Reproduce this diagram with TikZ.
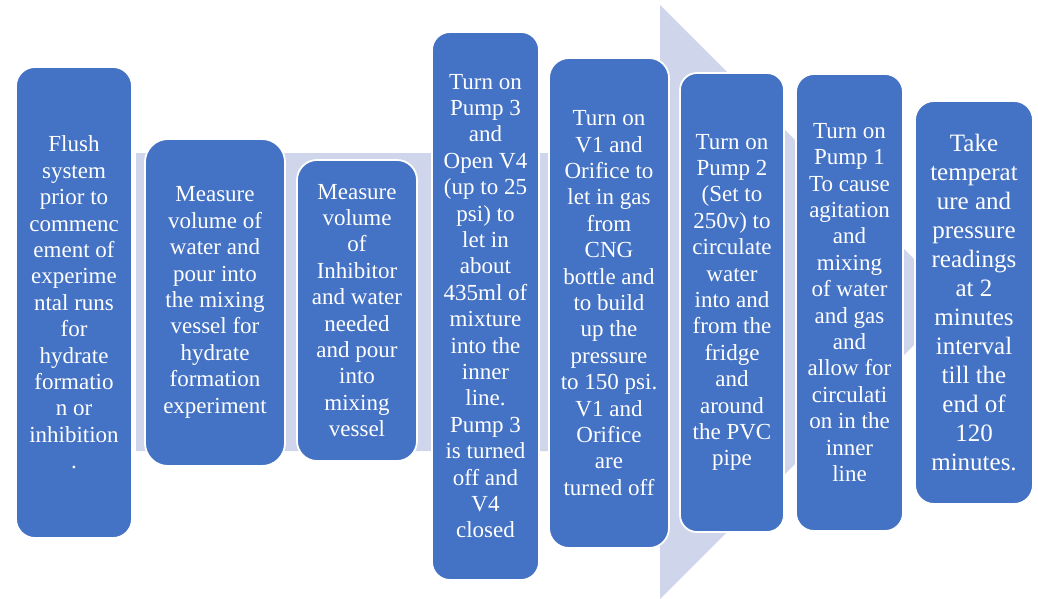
\documentclass[tikz,border=0pt]{standalone}
\usepackage{fontspec}
\setmainfont{Liberation Serif}
\definecolor{stepblue}{HTML}{4472C4}
\definecolor{flowgray}{HTML}{CFD5EA}

\begin{document}
\begin{tikzpicture}[x=1pt, y=-1pt,
  stepbox/.style={draw=white, line width=1.8pt, fill=stepblue, text=white,
    align=center, inner sep=0pt, font=\fontsize{23}{26.4}\selectfont},
  lastbox/.style={stepbox, font=\fontsize{25}{29}\selectfont}]
  \useasboundingbox (0,0) rectangle (1038,598);
  % background arrow
  \fill[flowgray] (136,153) -- (660,153) -- (660,5) -- (957,302)
    -- (660,599) -- (660,451) -- (136,451) -- cycle;
  % steps
  \node[stepbox, minimum width=116pt, minimum height=471pt, rounded corners=19pt] (flush) at (74,302.5)
    {Flush\\ system\\ prior to\\ commenc\\ ement of\\ experime\\ ntal runs\\ for\\ hydrate\\ formatio\\ n or\\ inhibition\\ .};
  \node[stepbox, minimum width=140pt, minimum height=327pt, rounded corners=23pt] (water) at (215,302.5)
    {Measure\\ volume of\\ water and\\ pour into\\ the mixing\\ vessel for\\ hydrate\\ formation\\ experiment};
  \node[stepbox, minimum width=120pt, minimum height=301pt, rounded corners=20pt] (inhib) at (357,310.5)
    {Measure\\ volume\\ of\\ Inhibitor\\ and water\\ needed\\ and pour\\ into\\ mixing\\ vessel};
  \node[stepbox, minimum width=107pt, minimum height=548pt, rounded corners=18pt] (pump3) at (485.5,306)
    {Turn on\\ Pump 3\\ and\\ Open V4\\ (up to 25\\ psi) to\\ let in\\ about\\ 435ml of\\ mixture\\ into the\\ inner\\ line.\\ Pump 3\\ is turned\\ off and\\ V4\\ closed};
  \node[stepbox, minimum width=120pt, minimum height=490pt, rounded corners=20pt] (gas) at (609,303)
    {Turn on\\ V1 and\\ Orifice to\\ let in gas\\ from\\ CNG\\ bottle and\\ to build\\ up the\\ pressure\\ to 150 psi.\\ V1 and\\ Orifice\\ are\\ turned off};
  \node[stepbox, minimum width=104pt, minimum height=459pt, rounded corners=17pt] (pump2) at (732,302.5)
    {Turn on\\ Pump 2\\ (Set to\\ 250v) to\\ circulate\\ water\\ into and\\ from the\\ fridge\\ and\\ around\\ the PVC\\ pipe};
  \node[stepbox, minimum width=107pt, minimum height=457pt, rounded corners=18pt] (pump1) at (849.5,302.5)
    {Turn on\\ Pump 1\\ To cause\\ agitation\\ and\\ mixing\\ of water\\ and gas\\ and\\ allow for\\ circulati\\ on in the\\ inner\\ line};
  \node[lastbox, minimum width=118pt, minimum height=403pt, rounded corners=19pt] (read) at (974,302.5)
    {Take\\ temperat\\ ure and\\ pressure\\ readings\\ at 2\\ minutes\\ interval\\ till the\\ end of\\ 120\\ minutes.};
\end{tikzpicture}
\end{document}
